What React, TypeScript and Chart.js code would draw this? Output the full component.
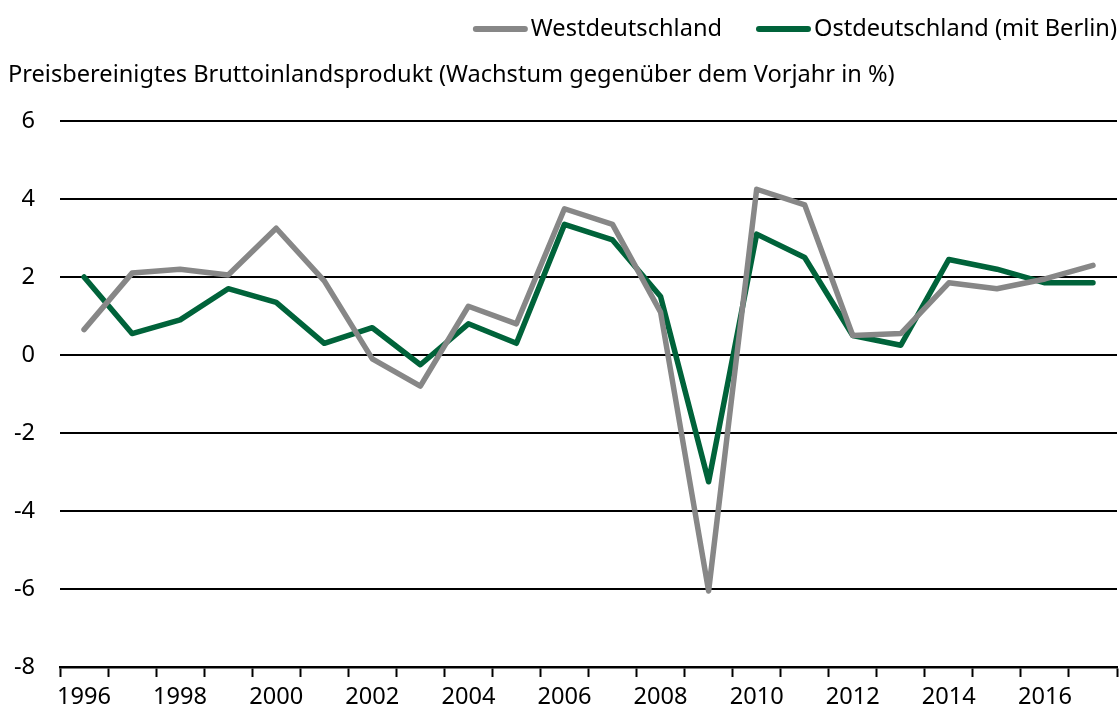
import React, { useEffect, useRef } from "react";
import { Chart, registerables } from "chart.js";

Chart.register(...registerables);

const years = ["1996","1997","1998","1999","2000","2001","2002","2003","2004","2005","2006","2007","2008","2009","2010","2011","2012","2013","2014","2015","2016","2017"];
const westLabel = "Westdeutschland";
const eastLabel = "Ostdeutschland (mit Berlin)";
const westValues = [0.65, 2.1, 2.2, 2.05, 3.25, 1.9, -0.1, -0.8, 1.25, 0.8, 3.75, 3.35, 1.1, -6.05, 4.25, 3.85, 0.5, 0.55, 1.85, 1.7, 1.95, 2.3];
const eastValues = [2.0, 0.55, 0.9, 1.7, 1.35, 0.3, 0.7, -0.25, 0.8, 0.3, 3.35, 2.95, 1.5, -3.25, 3.1, 2.5, 0.5, 0.25, 2.45, 2.2, 1.85, 1.85];
const titleText = "Preisbereinigtes Bruttoinlandsprodukt (Wachstum gegenüber dem Vorjahr in %)";
const yMin = -8;
const yMax = 6;
const yStep = 2;

const FONT = "'Noto Sans'";
const FONT_SIZE = 23.6;
const GREY = "#878787";
const GREEN = "#00633A";

const headerPlugin = {
  id: "header",
  afterDraw(chart: any) {
    const ctx = chart.ctx;
    ctx.save();
    ctx.font = `${FONT_SIZE}px ${FONT}`;
    ctx.textBaseline = "middle";
    ctx.fillStyle = "#000";
    const lineLen = 55;
    const gapLineText = 3;
    const gapItems = 34;
    const items = chart.data.datasets.map((d: any) => ({ label: d.label, color: d.borderColor }));
    const widths = items.map((it: any) => lineLen + gapLineText + ctx.measureText(it.label).width);
    const total = widths.reduce((a: number, b: number) => a + b, 0) + gapItems * (items.length - 1);
    let x = 1117 - total;
    const y = 29;
    items.forEach((it: any, i: number) => {
      ctx.strokeStyle = it.color;
      ctx.lineWidth = 6;
      ctx.lineCap = "round";
      ctx.beginPath();
      ctx.moveTo(x + 3, y);
      ctx.lineTo(x + lineLen - 3, y);
      ctx.stroke();
      ctx.textAlign = "left";
      ctx.fillText(it.label, x + lineLen + gapLineText, y);
      x += widths[i] + gapItems;
    });
    ctx.textAlign = "left";
    ctx.fillText(titleText, 8, 75);
    ctx.restore();
  },
};

export default function App() {
  const ref = useRef<HTMLCanvasElement>(null);
  useEffect(() => {
    document.body.style.margin = "0";
    const canvas = ref.current!;
    const chart = new Chart(canvas, {
      type: "line",
      data: {
        labels: years,
        datasets: [
          {
            label: westLabel,
            data: westValues,
            borderColor: GREY,
            backgroundColor: GREY,
            borderWidth: 5.5,
            pointRadius: 0,
            tension: 0,
            borderCapStyle: "round",
            borderJoinStyle: "round",
          },
          {
            label: eastLabel,
            data: eastValues,
            borderColor: GREEN,
            backgroundColor: GREEN,
            borderWidth: 5.5,
            pointRadius: 0,
            tension: 0,
            borderCapStyle: "round",
            borderJoinStyle: "round",
          },
        ],
      },
      options: {
        responsive: false,
        animation: false,
        layout: { padding: { top: 121, right: 2, left: 0, bottom: 0 } },
        plugins: {
          legend: { display: false },
          title: { display: false },
          tooltip: { enabled: false },
        },
        scales: {
          x: {
            type: "category",
            offset: true,
            grid: {
              display: true,
              offset: true,
              drawOnChartArea: false,
              drawTicks: true,
              tickLength: 10,
              tickWidth: 2,
              tickColor: "#000",
            },
            border: { display: true, color: "#000", width: 2.5 },
            ticks: {
              autoSkip: false,
              maxRotation: 0,
              minRotation: 0,
              padding: 6,
              color: "#000",
              font: { family: FONT, size: FONT_SIZE },
              callback: (_v: any, i: number) => (i % 2 === 0 ? years[i] : ""),
            },
            afterFit: (s: any) => {
              s.height = 48;
            },
          },
          y: {
            min: yMin,
            max: yMax,
            grid: {
              color: "#000",
              lineWidth: 2,
              drawTicks: false,
            },
            border: { display: false },
            ticks: {
              stepSize: yStep,
              padding: 25,
              color: "#000",
              font: { family: FONT, size: FONT_SIZE },
            },
            afterFit: (s: any) => {
              s.width = 60;
            },
          },
        },
      },
      plugins: [headerPlugin],
    });
    return () => chart.destroy();
  }, []);
  return (
    <div style={{ width: 1119, height: 715, position: "relative" }}>
      <canvas ref={ref} width={1119} height={715} style={{ display: "block" }} />
    </div>
  );
}
